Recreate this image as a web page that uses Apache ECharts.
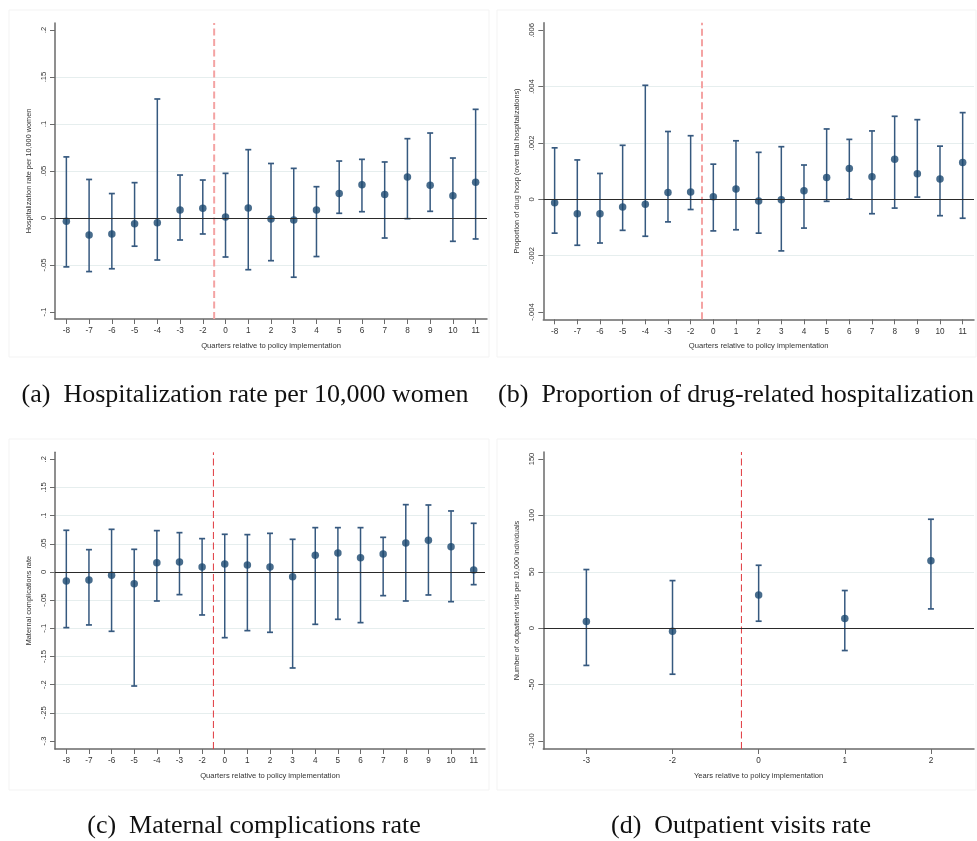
<!DOCTYPE html>
<html><head><meta charset="utf-8">
<script src="https://cdn.jsdelivr.net/npm/echarts@6/dist/echarts.min.js"></script>
<style>html,body{margin:0;padding:0;background:#fff}#c{width:977px;height:841px}</style>
</head><body><div id="c"></div><script>
// ---------- data ----------
const quarters = ['-8','-7','-6','-5','-4','-3','-2','0','1','2','3','4','5','6','7','8','9','10','11'];
const years = ['-3','-2','0','1','2'];

const hospEst = [-0.0035,-0.018,-0.017,-0.006,-0.005,0.0085,0.0103,0.001,0.0106,-0.001,-0.002,0.0085,0.026,0.0355,0.025,0.0436,0.0348,0.0238,0.0379];
const hospLo  = [-0.052,-0.057,-0.054,-0.030,-0.0447,-0.0234,-0.017,-0.0415,-0.055,-0.0454,-0.063,-0.041,0.005,0.0067,-0.0213,-0.0007,0.0071,-0.0248,-0.0223];
const hospHi  = [0.065,0.041,0.026,0.0376,0.1266,0.0457,0.0404,0.0475,0.0727,0.058,0.0528,0.0333,0.0606,0.0624,0.0596,0.0844,0.0904,0.0638,0.1156];

const drugEst = [-0.00012,-0.00051,-0.00051,-0.00027,-0.00017,0.00024,0.00026,0.000095,0.00037,-0.00006,-0.00001,0.00031,0.00078,0.0011,0.0008,0.00142,0.00091,0.00072,0.00131];
const drugLo  = [-0.0012,-0.00163,-0.00155,-0.0011,-0.00131,-0.0008,-0.00036,-0.00112,-0.00108,-0.0012,-0.00183,-0.00102,-0.00007,0.00001,-0.00051,-0.00031,0.00008,-0.00058,-0.00067];
const drugHi  = [0.00183,0.0014,0.00092,0.00192,0.00405,0.00241,0.00226,0.00125,0.00208,0.00167,0.00187,0.00122,0.0025,0.00213,0.00243,0.00295,0.00283,0.00189,0.00308];

const compEst = [-0.016,-0.0142,-0.0059,-0.0207,0.0166,0.0178,0.0089,0.0142,0.0124,0.0089,-0.0083,0.0296,0.0337,0.0254,0.032,0.0515,0.0562,0.045,0.0036];
const compLo  = [-0.0988,-0.094,-0.1053,-0.2024,-0.0515,-0.0402,-0.0763,-0.1166,-0.1041,-0.1071,-0.1704,-0.0929,-0.084,-0.0899,-0.042,-0.0515,-0.0408,-0.0527,-0.0225];
const compHi  = [0.074,0.0396,0.0757,0.0402,0.0734,0.0698,0.0592,0.0669,0.0663,0.0686,0.058,0.0787,0.0787,0.0787,0.0615,0.1195,0.1189,0.1083,0.0864];

const outEst = [5.9,-2.7,29.5,8.6,59.7];
const outLo  = [-33,-40.8,6.2,-19.8,17.1];
const outHi  = [52,42.2,55.8,33.4,96.6];

// policy-line position, in category-index units
const quarterPolicyLine = 6.5;
const yearPolicyLine = 1.8;

const yTicksA = {min:-0.1, max:0.2, interval:0.05};
const yTicksB = {min:-0.004, max:0.006, interval:0.002};
const yTicksC = {min:-0.3, max:0.2, interval:0.05};
const yTicksD = {min:-100, max:150, interval:50};

const captions = [
  '(a)  Hospitalization rate per 10,000 women',
  '(b)  Proportion of drug-related hospitalization',
  '(c)  Maternal complications rate',
  '(d)  Outpatient visits rate'
];

// ---------- layout / style ----------
const panels = [
  {cats:quarters, est:hospEst, lo:hospLo, hi:hospHi, y:yTicksA, line:quarterPolicyLine,
   xName:'Quarters relative to policy implementation', yName:'Hospitalization rate per 10,000 women',
   frame:{left:55, top:23, width:432, height:296}, data:{top:30, height:282},
   dash:{color:'#f4a3a3', width:2}},
  {cats:quarters, est:drugEst, lo:drugLo, hi:drugHi, y:yTicksB, line:quarterPolicyLine,
   xName:'Quarters relative to policy implementation', yName:'Proportion of drug hosp (over total hospitalizations)',
   frame:{left:543.3, top:22.7, width:430.7, height:296.6}, data:{top:30.4, height:281.6},
   dash:{color:'#f4a3a3', width:2}},
  {cats:quarters, est:compEst, lo:compLo, hi:compHi, y:yTicksC, line:quarterPolicyLine,
   xName:'Quarters relative to policy implementation', yName:'Maternal complications rate',
   frame:{left:55, top:452.3, width:430, height:296.7}, data:{top:459.3, height:281.7},
   dash:{color:'#e0393e', width:1}},
  {cats:years, est:outEst, lo:outLo, hi:outHi, y:yTicksD, line:yearPolicyLine,
   xName:'Years relative to policy implementation', yName:'Number of outpatient visits per 10,000 individuals',
   frame:{left:543.3, top:452, width:430.7, height:297}, data:{top:459, height:282},
   dash:{color:'#e0393e', width:1}}
];

const FONT = 'Liberation Sans, Arial, sans-serif';
const AXIS_COLOR = '#6a6a6a';
const TEXT_COLOR = '#333333';
const MARK_COLOR = '#1a476f';
const BAR_COLOR = '#36597f';

function stataFmt(v){
  const n = Number(Number(v).toPrecision(10));
  if (n === 0) return '0';
  let s = String(n);
  s = s.replace(/^0\./, '.').replace(/^-0\./, '-.');
  return s;
}

const grid = [], xAxis = [], yAxis = [], series = [];

panels.forEach((p, k) => {
  const gF = grid.length; // frame grid
  grid.push({left:p.frame.left, top:p.frame.top, width:p.frame.width, height:p.frame.height, containLabel:false});
  const gD = grid.length; // data grid
  grid.push({left:p.frame.left, top:p.data.top, width:p.frame.width, height:p.data.height, containLabel:false});

  // frame: category x axis (visible)
  xAxis.push({type:'category', gridIndex:gF, data:p.cats, boundaryGap:true,
    axisLine:{show:true, onZero:false, lineStyle:{color:AXIS_COLOR, width:1.5}},
    axisTick:{show:true, alignWithLabel:true, length:5, lineStyle:{color:AXIS_COLOR, width:1}},
    axisLabel:{interval:0, fontSize:8.2, color:TEXT_COLOR, fontFamily:FONT, margin:8},
    name:p.xName, nameLocation:'middle', nameGap:23,
    nameTextStyle:{fontSize:7.6, color:TEXT_COLOR, fontFamily:FONT},
    splitLine:{show:false}});
  // frame: hidden value x axis for the policy line
  const xFV = xAxis.length;
  xAxis.push({type:'value', gridIndex:gF, min:-0.5, max:p.cats.length-0.5, show:false});
  const yF = yAxis.length;
  yAxis.push({type:'value', gridIndex:gF, min:0, max:1,
    axisLine:{show:true, onZero:false, lineStyle:{color:AXIS_COLOR, width:1.5}},
    axisTick:{show:false}, axisLabel:{show:false}, splitLine:{show:false},
    name:p.yName, nameLocation:'middle', nameGap:23, nameRotate:90,
    nameTextStyle:{fontSize:7.3, color:TEXT_COLOR, fontFamily:FONT}});

  // data grid axes
  const xD = xAxis.length;
  xAxis.push({type:'category', gridIndex:gD, data:p.cats, boundaryGap:true, show:false});
  const yD = yAxis.length;
  yAxis.push({type:'value', gridIndex:gD, min:p.y.min, max:p.y.max, interval:p.y.interval,
    axisLine:{show:false, onZero:false},
    axisTick:{show:true, length:5, lineStyle:{color:AXIS_COLOR, width:1}},
    axisLabel:{rotate:90, fontSize:7.6, color:TEXT_COLOR, fontFamily:FONT, margin:7, formatter:stataFmt},
    splitLine:{show:true, showMinLine:false, showMaxLine:false, lineStyle:{color:'#e6eeee', width:1}}});

  // policy line
  series.push({type:'line', xAxisIndex:xFV, yAxisIndex:yF, data:[[p.line,0],[p.line,1]],
    symbol:'none', silent:true, z:1,
    lineStyle:{color:p.dash.color, width:p.dash.width, type:[7,3.5]}});

  // error bars
  series.push({type:'custom', xAxisIndex:xD, yAxisIndex:yD, z:3,
    data:p.cats.map((c,i)=>[i, p.lo[i], p.hi[i]]),
    encode:{x:0, y:[1,2]},
    renderItem:(params, api) => {
      const x = api.value(0);
      const lo = api.coord([x, api.value(1)]);
      const hi = api.coord([x, api.value(2)]);
      const w = 3;
      const style = {stroke:BAR_COLOR, lineWidth:1.5};
      const cap = {stroke:BAR_COLOR, lineWidth:1.7};
      return {type:'group', children:[
        {type:'line', shape:{x1:hi[0], y1:hi[1], x2:lo[0], y2:lo[1]}, style},
        {type:'line', shape:{x1:hi[0]-w, y1:hi[1], x2:hi[0]+w, y2:hi[1]}, style:cap},
        {type:'line', shape:{x1:lo[0]-w, y1:lo[1], x2:lo[0]+w, y2:lo[1]}, style:cap}
      ]};
    }});

  // point estimates + zero line
  series.push({type:'scatter', xAxisIndex:xD, yAxisIndex:yD, z:4,
    data:p.est.map((v,i)=>[i, v]), symbol:'circle', symbolSize:7.5,
    itemStyle:{color:MARK_COLOR},
    markLine:{silent:true, symbol:['none','none'], label:{show:false},
      lineStyle:{color:'#2a2a2a', width:1, type:'solid'}, data:[{yAxis:0}]}});
});

const capPos = [[245,395],[736,395],[254,826],[741,826]];
const graphic = captions.map((t,i)=>({type:'text', x:capPos[i][0], y:capPos[i][1],
  style:{text:t, font:'26px "Liberation Serif", "Times New Roman", serif', fill:'#111',
    textAlign:'center', textVerticalAlign:'middle'}}));
// faint outer panel borders
[[9,10,480,347],[497,10,479,347],[9,439,480,351],[497,439,479,351]].forEach(r=>{
  graphic.push({type:'rect', shape:{x:r[0], y:r[1], width:r[2], height:r[3]},
    style:{fill:'none', stroke:'#f3f3f3', lineWidth:1}, silent:true, z:-10});
});

const chart = echarts.init(document.getElementById('c'), null, {renderer:'canvas'});
chart.setOption({animation:false, backgroundColor:'#fff', grid, xAxis, yAxis, series, graphic,
  tooltip:{show:false}});
</script></body></html>
